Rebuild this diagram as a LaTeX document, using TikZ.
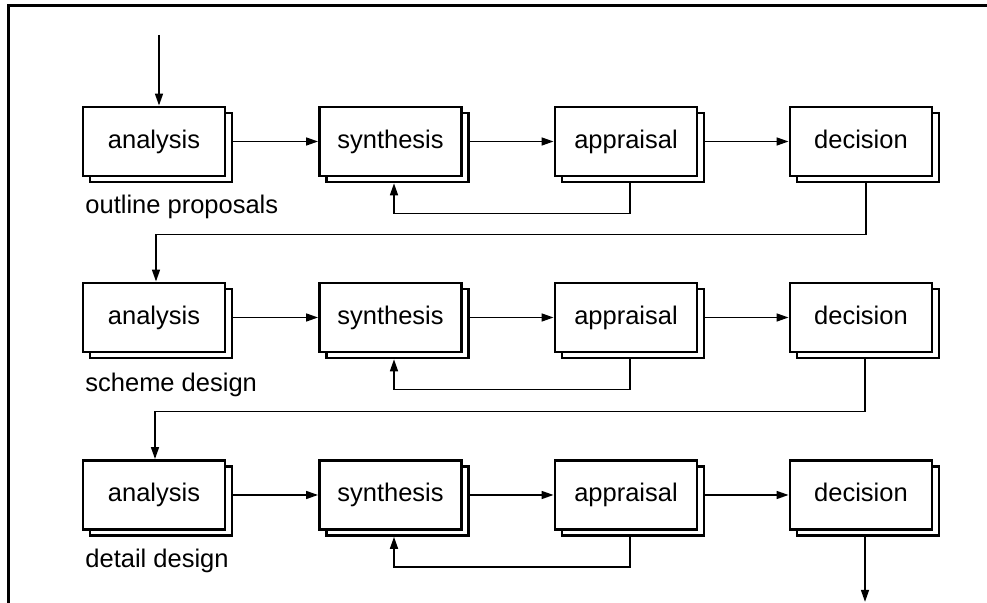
\documentclass[tikz,border=0pt]{standalone}
\usepackage{fontspec}
\setmainfont{Liberation Sans}
\usetikzlibrary{arrows.meta}
\begin{document}
\begin{tikzpicture}[x=0.5pt,y=-0.5pt,
  labelfont/.style={font=\fontsize{12.75pt}{15pt}\selectfont},
  stagebox/.style={draw=black,fill=white,line width=1.45pt,minimum width=71pt,
    minimum height=34.5pt,inner sep=0pt,text height=9.4pt,text depth=2.6pt,labelfont},
  backbox/.style={draw=black,fill=white,line width=1.35pt,minimum width=71pt,
    minimum height=34.5pt,inner sep=0pt},
  conn/.style={line width=0.8pt,-{Triangle[length=6pt,width=4pt]}},
  phase/.style={anchor=base west,inner sep=0pt,labelfont},
  frame/.style={line width=1.5pt}
]
\useasboundingbox (0,0) rectangle (987,603);

% frame: top and left rules
\draw[frame] (987,6) -- (8,6) -- (8,603);

% stage boxes, each with an offset copy behind it
\foreach \row/\yy in {1/141.5, 2/317.5, 3/495} {
  \foreach \col/\xx/\txt in {an/154/analysis, sy/390.5/synthesis, ap/626/appraisal, de/861/decision} {
    \node[backbox] (\col\row-b) at (\xx+7,\yy+6) {};
    \node[stagebox] (\col\row) at (\xx,\yy) {\txt};
  }
}

% phase names
\node[phase] (lab1) at (85,214) {outline proposals};
\node[phase] (lab2) at (85,392) {scheme design};
\node[phase] (lab3) at (85,568) {detail design};

% flow within each phase
\foreach \row in {1,2,3} {
  \draw[conn] (an\row.east -| an\row-b.east) -- (sy\row.west);
  \draw[conn] (sy\row.east -| sy\row-b.east) -- (ap\row.west);
  \draw[conn] (ap\row.east -| ap\row-b.east) -- (de\row.west);
  \draw[conn] ([xshift=-1.5pt]ap\row-b.south) -- ++(0,30) -| ([xshift=-1.75pt]sy\row-b.south);
}

% entry and exit
\coordinate (entry) at (159,35);
\draw[conn] (entry) -- (entry |- an1.north);
\path ([xshift=-1.5pt]de3-b.south) ++(0,65) coordinate (exit);
\draw[conn] ([xshift=-1.5pt]de3-b.south) -- (exit);

% links between phases
\draw[conn] ([xshift=-1pt]de1-b.south) -- ++(0,51) -| ([xshift=1pt]an2.north);
\draw[conn] ([xshift=-1.5pt]de2-b.south) -- ++(0,52) -| ([xshift=0.5pt]an3.north);
\end{tikzpicture}
\end{document}
